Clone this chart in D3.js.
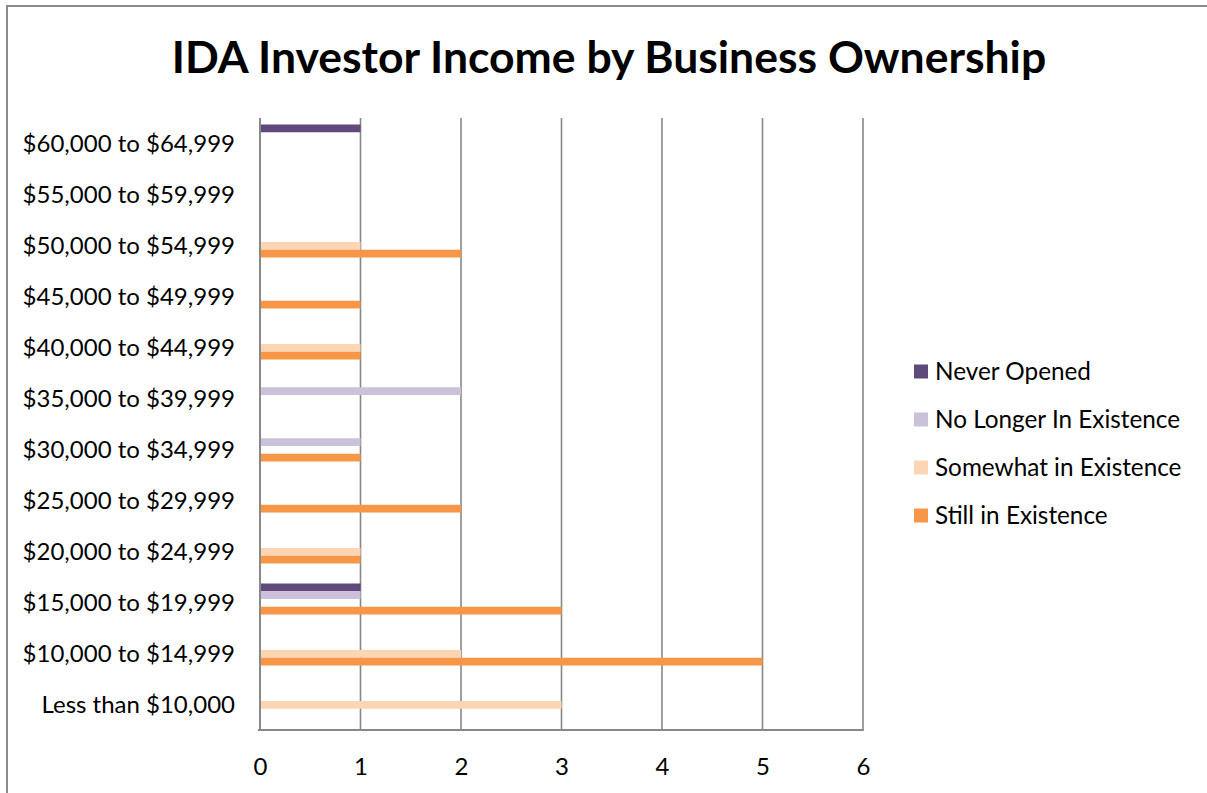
<!DOCTYPE html>
<html>
<head>
<meta charset="utf-8">
<script src="https://cdn.jsdelivr.net/npm/d3@7"></script>
<style>
  html, body { margin: 0; padding: 0; background: #fff; }
  svg { display: block; }
  text { font-family: Lato, "Open Sans", sans-serif; fill: #000; }
</style>
</head>
<body>
<svg id="chart" width="1207" height="793"></svg>
<script>
// Income brackets, top to bottom
const categories = [
  "$60,000 to $64,999",
  "$55,000 to $59,999",
  "$50,000 to $54,999",
  "$45,000 to $49,999",
  "$40,000 to $44,999",
  "$35,000 to $39,999",
  "$30,000 to $34,999",
  "$25,000 to $29,999",
  "$20,000 to $24,999",
  "$15,000 to $19,999",
  "$10,000 to $14,999",
  "Less than $10,000"
];

const seriesNames = [
  "Never Opened",
  "No Longer In Existence",
  "Somewhat in Existence",
  "Still in Existence"
];

// Counts per bracket, same order as categories
const neverOpened       = [1, 0, 0, 0, 0, 0, 0, 0, 0, 1, 0, 0];
const noLongerExisting  = [0, 0, 0, 0, 0, 2, 1, 0, 0, 1, 0, 0];
const somewhatExisting  = [0, 0, 1, 0, 1, 0, 0, 0, 1, 0, 2, 3];
const stillExisting     = [0, 0, 2, 1, 1, 0, 1, 2, 1, 3, 5, 0];

const seriesValues = [neverOpened, noLongerExisting, somewhatExisting, stillExisting];
const seriesColors = ["#5f4a7b", "#ccc1da", "#fcd5b5", "#f79646"];

const xTicks = [0, 1, 2, 3, 4, 5, 6];

const svg = d3.select("#chart");

// Chart frame
svg.append("rect")
  .attr("x", 7).attr("y", 6)
  .attr("width", 1230).attr("height", 820)
  .attr("fill", "none")
  .attr("stroke", "#8a8a8a")
  .attr("stroke-width", 2);

// Title
svg.append("text")
  .attr("x", 609).attr("y", 73)
  .attr("text-anchor", "middle")
  .attr("font-size", 44.5)
  .attr("font-weight", 700)
  .text("IDA Investor Income by Business Ownership");

const plot = { left: 260, right: 863, top: 118, bottom: 730 };

const x = d3.scaleLinear().domain([0, 6]).range([plot.left, plot.right]);
const y = d3.scaleBand().domain(categories).range([plot.top, plot.bottom]).padding(0);

// Cluster of four bars inside each bracket band
const groupHeight = 31;
const groupOffset = (y.bandwidth() - groupHeight) / 2 - 3.5;
const inner = d3.scaleBand().domain(d3.range(seriesNames.length)).range([0, groupHeight]).padding(0);

// Vertical gridlines
svg.append("g")
  .selectAll("line")
  .data(xTicks)
  .join("line")
  .attr("x1", d => x(d)).attr("x2", d => x(d))
  .attr("y1", plot.top).attr("y2", plot.bottom)
  .attr("stroke", "#878787")
  .attr("stroke-width", 1.6);

// Bars
const rows = [];
seriesValues.forEach((vals, s) => {
  vals.forEach((v, i) => rows.push({ s, cat: categories[i], v }));
});

svg.append("g")
  .selectAll("rect")
  .data(rows.filter(d => d.v > 0))
  .join("rect")
  .attr("x", x(0) + 1)
  .attr("y", d => y(d.cat) + groupOffset + inner(d.s))
  .attr("width", d => x(d.v) - x(0) - 1)
  .attr("height", inner.bandwidth())
  .attr("fill", d => seriesColors[d.s]);

// Category axis line and bottom axis line
svg.append("line")
  .attr("x1", plot.left).attr("x2", plot.left)
  .attr("y1", plot.top).attr("y2", plot.bottom)
  .attr("stroke", "#878787").attr("stroke-width", 1.8);
svg.append("line")
  .attr("x1", plot.left - 2).attr("x2", plot.right + 0.8)
  .attr("y1", plot.bottom).attr("y2", plot.bottom)
  .attr("stroke", "#878787").attr("stroke-width", 1.8);

// Category labels
const yAxis = d3.axisLeft(y).tickSize(0).tickPadding(25);
const gy = svg.append("g")
  .attr("transform", `translate(${plot.left},0)`)
  .call(yAxis);
gy.select(".domain").remove();
gy.selectAll("text")
  .attr("font-size", 24)
  .attr("font-family", "Lato, sans-serif")
  .attr("fill", "#000")
  .attr("dy", "0.36em");

// Value labels
const xAxis = d3.axisBottom(x).tickValues(xTicks).tickSize(0).tickPadding(0).tickFormat(d3.format("d"));
const gx = svg.append("g")
  .attr("transform", `translate(0,${plot.bottom})`)
  .call(xAxis);
gx.select(".domain").remove();
gx.selectAll("text")
  .attr("font-size", 24)
  .attr("font-family", "Lato, sans-serif")
  .attr("fill", "#000")
  .attr("dy", null)
  .attr("y", 45);

// Legend
const legend = svg.append("g")
  .selectAll("g")
  .data(seriesNames)
  .join("g")
  .attr("transform", (d, i) => `translate(914,${371.5 + i * 48})`);
legend.append("rect")
  .attr("x", 0).attr("y", -7)
  .attr("width", 14).attr("height", 14)
  .attr("fill", (d, i) => seriesColors[i]);
legend.append("text")
  .attr("x", 21).attr("y", 8.5)
  .attr("font-size", 24.3)
  .text(d => d);
</script>
</body>
</html>
